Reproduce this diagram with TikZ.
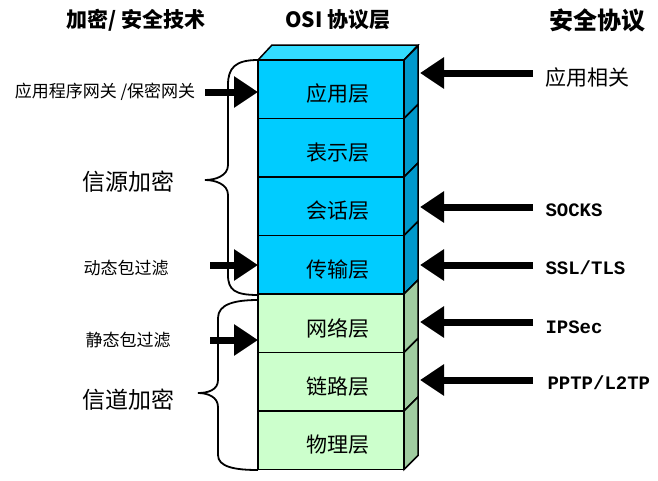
\documentclass[tikz,border=0pt]{standalone}
\usepackage{fontspec}
\setmainfont{Liberation Serif}
\newfontfamily\cjk{Noto Sans CJK SC}
\newfontfamily\mono{Liberation Mono}
\usetikzlibrary{arrows.meta}
\definecolor{bf}{RGB}{0,204,255}
\definecolor{bs}{RGB}{0,153,204}
\definecolor{bt}{RGB}{51,221,255}
\definecolor{gf}{RGB}{204,255,204}
\definecolor{gs}{RGB}{160,204,160}
\begin{document}
\begin{tikzpicture}[x=1pt,y=-1pt,
  big/.style={line width=7pt,-{Triangle[length=24pt,width=30pt]}},
  lab/.style={font=\cjk\fontsize{21}{21}\selectfont},
  slab/.style={font=\cjk\fontsize{17}{17}\selectfont},
  hd/.style={font=\cjk\bfseries\fontsize{21}{21}\selectfont},
  lat/.style={font=\mono\bfseries\fontsize{19}{19}\selectfont},
  brace/.style={line width=1.8pt}]
\useasboundingbox (0,0) rectangle (658,480);
\fill[white] (0,0) rectangle (658,480);
\node[hd] (h1) at (136,20) {加密/ 安全技术};
\node[hd] (h2) at (338,20) {OSI 协议层};
\node[hd,font=\cjk\bfseries\fontsize{24}{24}\selectfont] (h3) at (597,20) {安全协议};
% top face
\filldraw[fill=bt,line width=1.5pt] (258,60) -- (272,45) -- (418,45) -- (404,60) -- cycle;
\foreach \i/\t/\f/\s in {0/应用层/bf/bs,1/表示层/bf/bs,2/会话层/bf/bs,3/传输层/bf/bs,4/网络层/gf/gs,5/链路层/gf/gs,6/物理层/gf/gs}{
  \pgfmathsetmacro\ta{60+\i*58.5}
  \pgfmathsetmacro\tb{\ta+58.5}
  \filldraw[fill=\s,line width=1.5pt] (404,\ta) -- (418,\ta-14) -- (418,\tb-14) -- (404,\tb) -- cycle;
  \filldraw[fill=\f,line width=1.5pt] (258,\ta) rectangle (404,\tb);
  \node[lab,anchor=center] (L\i) at (338,\ta+34) {\t};
}
% right arrows
\foreach \n/\y in {a/73,b/207,c/265,d/322,e/380}{
  \coordinate (r\n) at (533,\y);
  \coordinate (e\n) at (420,\y);
  \draw[big] (r\n) -- (e\n);
}
\node[lab,anchor=west] (ta) at (542,78) {应用相关};
\node[lat,anchor=west] (tb) at (542,210) {SOCKS};
\node[lat,anchor=west] (tc) at (542,268) {SSL/TLS};
\node[lat,anchor=west] (td) at (542,327) {IPSec};
\node[lat,anchor=west] (te) at (544,383) {PPTP/L2TP};
% left arrows
\coordinate (la) at (205,92); \coordinate (lae) at (258,92);
\coordinate (lb) at (210,265); \coordinate (lbe) at (258,265);
\coordinate (lc) at (210,340); \coordinate (lce) at (258,340);
\draw[big] (la) -- (lae);
\draw[big] (lb) -- (lbe);
\draw[big] (lc) -- (lce);
\node[slab] (n1) at (105,92) {应用程序网关 /保密网关};
\node[lab,font=\cjk\fontsize{23}{23}\selectfont] (n2) at (128,182) {信源加密};
\node[slab] (n3) at (126,268) {动态包过滤};
\node[slab] (n4) at (128,340) {静态包过滤};
\node[lab,font=\cjk\fontsize{23}{23}\selectfont] (n5) at (128,400) {信道加密};
% braces
\draw[brace] (258,60) .. controls (235,60) and (228,68) .. (228,85) -- (228,165)
  .. controls (228,176) and (215,180) .. (205,180)
  .. controls (215,180) and (228,184) .. (228,195) -- (228,275)
  .. controls (228,290) and (235,295) .. (258,295);
\draw[brace] (258,300) .. controls (235,300) and (218,304) .. (218,318) -- (218,380)
  .. controls (218,390) and (208,393) .. (198,393)
  .. controls (208,393) and (218,397) .. (218,407) -- (218,455)
  .. controls (218,467) and (235,470) .. (258,470);
\end{tikzpicture}
\end{document}
